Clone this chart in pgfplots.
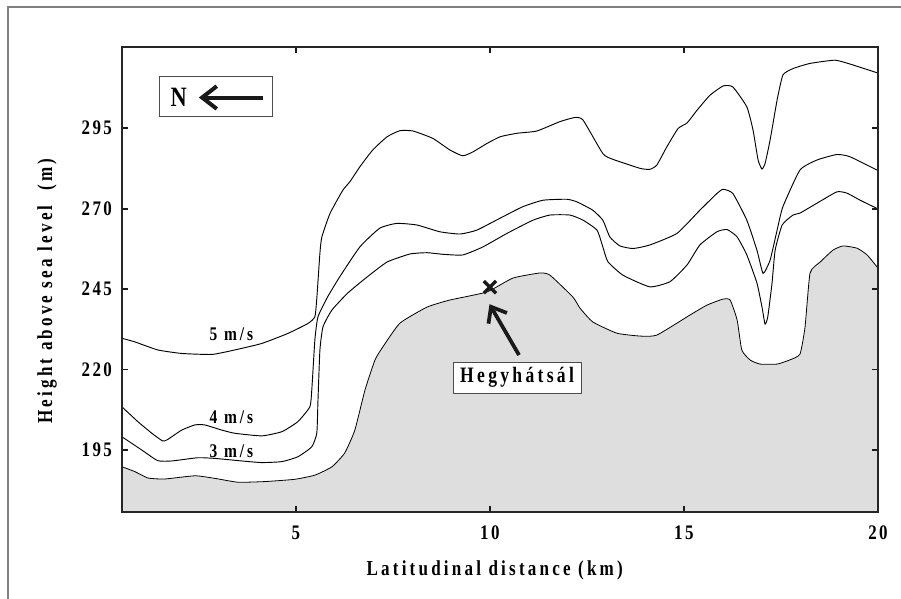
\documentclass[border=0pt]{standalone}
\usepackage{pgfplots}
\pgfplotsset{compat=1.18}
\usepackage{fontspec}
\setmainfont{Liberation Serif}[FakeStretch=0.8]
\newfontfamily\lsp{Liberation Serif}[FakeStretch=0.8, LetterSpace=15]
\newfontfamily\lspt{Liberation Serif}[FakeStretch=0.82, LetterSpace=12]
\usetikzlibrary{arrows.meta}
\definecolor{ground}{RGB}{222,222,222}
\definecolor{frame}{RGB}{128,128,128}

\begin{document}
\begin{tikzpicture}
% page = 901 x 599 px at 0.75pt per px, axis box at (122..878, 47..512) px
\path[use as bounding box] (-91.5pt,-65.25pt) rectangle (584.25pt,384pt);
\draw[frame, line width=0.8pt] (-85.5pt,-65.25pt) -- (-85.5pt,378.75pt) -- (584.25pt,378.75pt);

\begin{axis}[
    at={(0,0)}, anchor=south west,
    scale only axis,
    width=567pt, height=348.75pt,
    xmin=0.52, xmax=20, ymin=175.75, ymax=320.2,
    xtick={5,10,15,20}, ytick={195,220,245,270,295},
    axis on top,
    axis line style={black!85, line width=1pt},
    major tick length=4.5pt,
    every tick/.style={black!90, line width=1.4pt},
    /pgf/number format/assume math mode=true,
    ticklabel style={font=\lspt\bfseries\fontsize{15.5}{17}\selectfont, text=black},
    xticklabel style={yshift=-7pt},
    yticklabel style={xshift=-4pt},
    every axis x label/.style={at={(axis description cs:0.493,-0.125)}, anchor=center},
    every axis y label/.style={at={(axis description cs:-0.099,0.475)}, anchor=center, rotate=90},
    label style={font=\lsp\bfseries\fontsize{16}{18}\selectfont, text=black},
    xlabel={Latitudinal distance (km)},
    ylabel={Height above sea level\ \ (m)},
  ]

% terrain
\addplot[draw=black, line width=0.6pt, fill=ground, smooth, tension=0.3] coordinates {
(0.52,189.8) (0.85,188.3) (1.19,186.3) (1.62,186.0) (2.40,187.0) (2.91,186.2)
(3.51,185.0) (4.20,185.2) (4.97,185.9) (5.49,187.2) (5.93,189.8) (6.26,194.1)
(6.52,201.2) (6.78,213.6) (7.04,223.0) (7.24,227.0) (7.68,234.4) (8.38,239.4)
(8.97,241.6) (9.92,244.1) (10.59,248.4) (11.29,250.0) (11.55,249.3) (12.14,242.5)
(12.32,239.1) (12.65,234.8) (13.27,231.3) (13.87,230.4) (14.30,230.7) (15.15,236.9)
(15.59,240.0) (16.01,241.9) (16.19,241.6) (16.37,235.4) (16.49,226.1) (16.70,223.0)
(16.96,221.7) (17.40,221.7) (17.73,223.0) (17.99,224.8) (18.12,233.2) (18.25,250.0)
(18.51,253.4) (18.84,257.1) (19.10,258.4) (19.46,257.7) (19.72,255.6) (20.0,251.5)
} \closedcycle;

% 3 m/s
\addplot[black, line width=0.7pt, smooth, tension=0.3] coordinates {
(0.52,199.1) (1.03,195.0) (1.44,191.7) (1.80,191.6) (2.47,192.6) (2.91,192.4)
(3.61,191.6) (4.12,191.1) (4.64,191.4) (5.05,192.9) (5.41,196.0) (5.54,200.3)
(5.57,210.5) (5.62,226.1) (5.70,233.3) (5.93,238.5) (6.34,243.8) (6.83,248.7)
(7.35,253.4) (7.94,255.9) (8.38,256.3) (8.79,255.8) (9.30,255.6) (9.82,258.1)
(10.44,262.3) (11.11,266.4) (11.55,268.0) (12.06,268.0) (12.40,266.4) (12.76,263.3)
(12.91,258.1) (13.04,253.5) (13.43,249.3) (14.12,245.7) (14.64,247.3) (15.08,252.5)
(15.41,258.7) (15.85,262.8) (16.11,263.5) (16.37,261.2) (16.62,255.6) (16.88,246.9)
(17.01,239.5) (17.09,234.1) (17.16,236.4) (17.27,246.9) (17.35,257.1) (17.53,264.9)
(17.81,268.0) (17.99,268.6) (18.43,271.7) (18.94,275.2) (19.20,274.8) (19.54,272.6)
(20.0,269.9)
};

% 4 m/s
\addplot[black, line width=0.7pt, smooth, tension=0.3] coordinates {
(0.52,208.4) (0.93,203.8) (1.29,200.2) (1.57,197.8) (1.70,198.3) (2.06,201.2)
(2.40,202.8) (2.65,202.8) (3.09,201.2) (3.43,200.2) (4.12,199.4) (4.64,200.7)
(5.05,203.8) (5.36,208.4) (5.41,213.6) (5.49,229.2) (5.57,236.4) (5.82,242.6)
(6.13,248.8) (6.65,258.1) (7.16,263.9) (7.60,265.4) (8.12,264.9) (8.71,262.8)
(9.23,262.1) (9.66,263.3) (10.26,267.0) (10.85,270.6) (11.37,272.6) (11.98,272.9)
(12.24,272.1) (12.65,269.5) (12.91,266.4) (13.09,261.2) (13.35,258.4) (13.69,257.6)
(14.12,258.7) (14.82,262.3) (15.41,269.5) (15.85,274.7) (16.01,276.0) (16.26,274.7)
(16.62,266.4) (16.88,257.1) (17.04,249.9) (17.22,254.0) (17.40,263.3) (17.55,270.6)
(17.99,282.0) (18.43,285.1) (18.94,286.8) (19.28,286.1) (20.0,281.8)
};

% 5 m/s
\addplot[black, line width=0.7pt, smooth, tension=0.3] coordinates {
(0.52,229.7) (0.85,228.6) (1.44,226.1) (2.06,225.0) (2.84,224.7) (3.43,226.1)
(4.12,228.1) (4.79,231.2) (5.31,234.3) (5.49,236.4) (5.54,242.2) (5.62,256.2)
(5.67,261.2) (5.88,268.5) (6.21,275.7) (6.39,278.3) (6.65,283.0) (6.98,288.2)
(7.35,292.3) (7.68,294.2) (8.02,294.1) (8.53,291.8) (8.97,288.2) (9.30,286.4)
(9.56,287.6) (9.92,290.2) (10.26,292.3) (10.70,293.4) (11.21,294.1) (11.80,297.0)
(12.19,298.3) (12.40,297.5) (12.91,287.1) (13.17,285.3) (13.87,282.5) (14.12,282.2)
(14.30,283.5) (14.56,289.2) (14.85,294.9) (15.08,296.6) (15.34,300.6) (15.67,305.2)
(16.01,308.1) (16.26,307.8) (16.62,301.6) (16.78,294.4) (16.91,285.1) (17.01,282.3)
(17.09,284.0) (17.22,291.3) (17.40,303.7) (17.55,311.5) (17.81,313.5) (18.25,315.1)
(18.89,316.1) (19.28,314.9) (20.0,312.1)
};

% station
\addplot[only marks, mark=x, mark size=6.5pt, black!90, line width=2.6pt] coordinates {(10.0,245.6)};

\draw[black!90, line width=2.8pt, -{Straight Barb[length=10pt, width=16pt]}]
  (axis cs:10.75,224.5) -- (axis cs:9.99,240.3);

\node[draw=black!70, line width=0.6pt, fill=white, minimum width=96pt, minimum height=23.25pt,
  inner sep=0pt, font=\lsp\bfseries\fontsize{16.5}{18}\selectfont, text=black]
  at (axis cs:10.70,217.5) {Hegyhátsál};

\node[font=\lsp\bfseries\fontsize{14.5}{16}\selectfont, text=black] at (axis cs:3.34,230.9) {5 m/s};
\node[font=\lsp\bfseries\fontsize{14.5}{16}\selectfont, text=black] at (axis cs:3.34,205.1) {4 m/s};
\node[font=\lsp\bfseries\fontsize{14.5}{16}\selectfont, text=black] at (axis cs:3.34,194.7) {3 m/s};

% north arrow
\node[draw=black!70, line width=0.6pt, fill=white, minimum width=84.75pt, minimum height=30pt,
  inner sep=0pt] at (axis cs:2.93,304.9) {};
\node[font=\bfseries\fontsize{21}{22}\selectfont, text=black] at (axis cs:1.98,304.7) {N};
\draw[black!90, line width=3pt, -{Straight Barb[length=11pt, width=17pt]}]
  (axis cs:4.15,304.5) -- (axis cs:2.50,304.5);
\end{axis}
\end{tikzpicture}
\end{document}
